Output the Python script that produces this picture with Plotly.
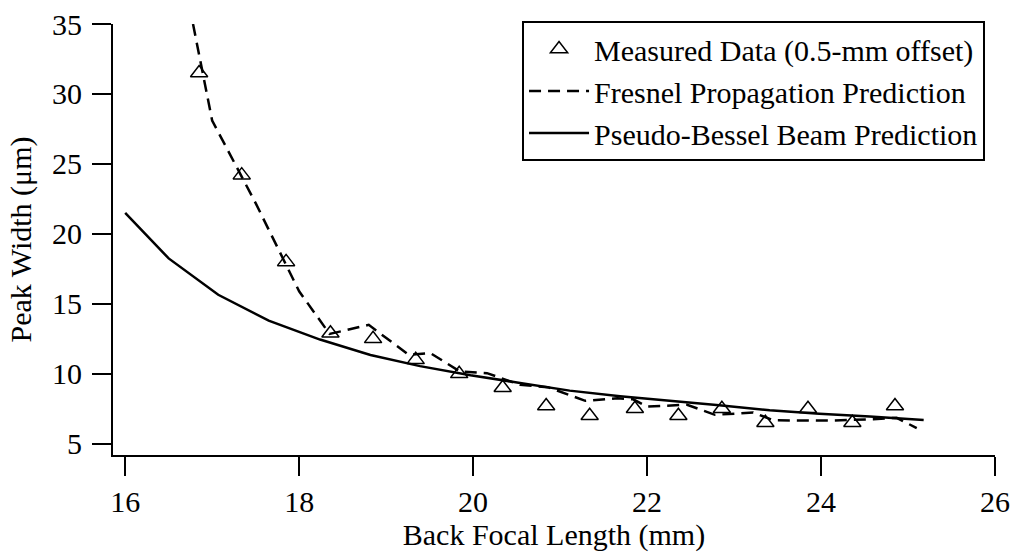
import plotly.graph_objects as go

# Measured data (0.5-mm offset)
meas_x = [16.85, 17.34, 17.85, 18.36, 18.85, 19.34, 19.84, 20.34, 20.84,
          21.34, 21.86, 22.36, 22.86, 23.36, 23.85, 24.36, 24.85]
meas_y = [31.5, 24.2, 18.0, 12.9, 12.5, 11.0, 10.0, 9.0, 7.7,
          7.0, 7.5, 7.0, 7.5, 6.5, 7.5, 6.5, 7.7]

# Fresnel propagation prediction (dashed)
fres_x = [16.78, 17.0, 17.5, 18.0, 18.35, 18.80, 19.26, 19.51, 19.85, 20.16,
          20.54, 20.86, 21.10, 21.29, 21.66, 21.84, 22.0, 22.46, 22.78, 23.22,
          23.45, 24.10, 24.60, 24.87, 25.10]
fres_y = [35.0, 28.1, 22.2, 15.9, 12.85, 13.5, 11.36, 11.48, 10.16, 10.05,
          9.21, 9.05, 8.5, 8.07, 8.26, 8.18, 7.66, 7.79, 7.07, 7.24,
          6.68, 6.66, 6.76, 6.86, 6.12]

# Pseudo-Bessel beam prediction (solid)
bess_x = [16.0, 16.5, 17.07, 17.65, 18.24, 18.82, 19.39, 19.97, 20.54, 21.11,
          21.69, 22.26, 22.83, 23.41, 23.98, 24.56, 25.18]
bess_y = [21.5, 18.25, 15.65, 13.8, 12.45, 11.35, 10.55, 9.9, 9.35, 8.8,
          8.4, 8.05, 7.75, 7.4, 7.15, 6.95, 6.7]

x_ticks = [16, 18, 20, 22, 24, 26]
y_ticks = [5, 10, 15, 20, 25, 30, 35]

FONT = "Liberation Serif"
FS = 30

fig = go.Figure()
fig.add_trace(go.Scatter(
    x=meas_x, y=meas_y, mode="markers",
    name="Measured Data (0.5-mm offset)",
    marker=dict(symbol="triangle-up-open", size=15, color="black",
                line=dict(width=1.5, color="black")),
))
fig.add_trace(go.Scatter(
    x=fres_x, y=fres_y, mode="lines",
    name="Fresnel Propagation Prediction",
    line=dict(color="black", width=2.5, dash="12px,7px"),
))
fig.add_trace(go.Scatter(
    x=bess_x, y=bess_y, mode="lines",
    name="Pseudo-Bessel Beam Prediction",
    line=dict(color="black", width=2.5),
))

axis_common = dict(
    showline=True, linewidth=2, linecolor="black",
    ticks="outside", ticklen=19, tickwidth=2, tickcolor="black",
    showgrid=False, zeroline=False, automargin=False,
    tickfont=dict(family=FONT, size=FS, color="black"),
)

fig.update_layout(
    template="none",
    width=1010, height=552,
    margin=dict(l=113, r=15, t=24, b=97),
    paper_bgcolor="white", plot_bgcolor="white",
    font=dict(family=FONT, size=FS, color="black"),
    xaxis=dict(range=[15.86, 26], tickvals=x_ticks,
               title=dict(text="Back Focal Length (mm)", standoff=0,
                          font=dict(family=FONT, size=FS)),
               **axis_common),
    yaxis=dict(range=[4.2, 35], tickvals=y_ticks, ticklabelstandoff=4,
               title=dict(text="Peak Width (μm)", standoff=12,
                          font=dict(family=FONT, size=FS)),
               **axis_common),
    legend=dict(x=0.9887, y=1.007, xanchor="right", yanchor="top",
                bordercolor="black", borderwidth=2, bgcolor="white",
                font=dict(family=FONT, size=FS), tracegroupgap=0,
                itemwidth=60),
    showlegend=True,
)

fig.write_html("out.html",
               config={"displayModeBar": False},
               post_script="document.body.style.margin='0';"
                           "document.body.style.overflow='hidden';")
